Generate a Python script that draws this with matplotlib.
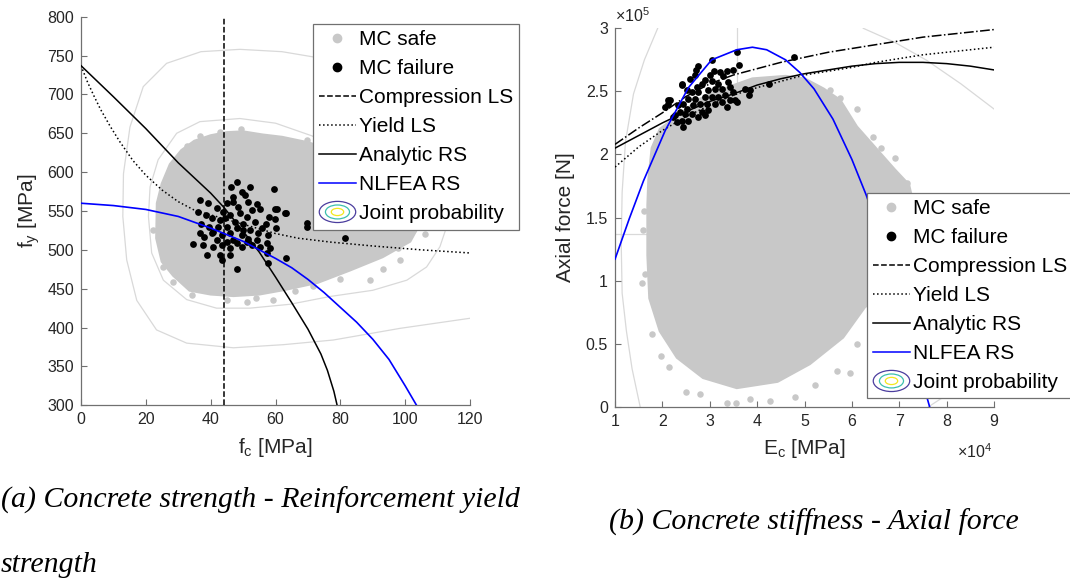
import numpy as np
import matplotlib.pyplot as plt
from matplotlib.legend_handler import HandlerBase
from matplotlib.patches import Ellipse
from matplotlib.lines import Line2D

plt.rcParams['font.family'] = ['Liberation Sans', 'DejaVu Sans']
plt.rcParams['mathtext.default'] = 'regular'

GRAY = '#c8c8c8'

# ---------------- (a) concrete strength fc - yield strength fy ----------------
fc_comp_ls = 44.0

fc_yield = [0, 2, 4, 6, 9, 12, 16, 20, 25, 30, 35, 40, 45, 50, 55, 60, 67, 77, 90, 105, 120]
fy_yield = [737, 716, 698, 681, 659, 639, 615, 596, 577, 562, 551, 545, 539, 533, 527, 521, 515, 510, 505, 500, 496]

fc_analytic = [0, 10, 20, 30, 40, 44, 50, 55, 60, 65, 70, 74, 76, 78, 79]
fy_analytic = [737, 697, 656, 612, 573, 555, 524, 497, 465, 432, 398, 366, 345, 318, 300]

fc_nlfea = [0, 10, 20, 30, 40, 50, 55, 60, 65, 70, 75, 80, 85, 90, 95, 100, 103.5]
fy_nlfea = [560, 557, 552, 543, 528, 511, 500, 489, 477, 462, 445, 426, 407, 385, 359, 325, 300]

# joint probability contours
fc_cont_out = [120, 100, 85, 72, 62, 49, 37, 26.4, 19.2, 15.1, 13.1, 12.9, 14.1, 17.2, 23.3, 32.6, 47, 62.4, 77.8, 98.4, 120]
fy_cont_out = [705, 722, 738, 748, 755, 758, 755, 740, 710, 658, 598, 543, 487, 435, 397, 380, 374, 378, 384, 399, 412]
fc_cont_in = [71.7, 60, 49, 36.7, 29.5, 23.8, 21.3, 20.8, 21.8, 25.4, 32.6, 41.8, 52.1, 64.5, 76.8, 90, 100.5, 106.6, 110.7, 112.8, 113, 110, 100, 86, 71.7]
fy_cont_in = [646, 663, 669, 665, 650, 616, 581, 543, 496, 461, 436, 425, 425, 430, 440, 448, 461, 478, 504, 530, 560, 590, 618, 636, 646]

# outline of the dense MC safe cloud + scattered samples on its fringe
fc_safe_hull = [23.5, 25, 27.5, 31, 35, 40, 45, 50, 56, 62, 70, 80, 90, 98, 103, 104, 101.5, 93, 83, 73, 63, 55, 47, 40, 33.5, 28.5, 25, 23.3]
fy_safe_hull = [560, 585, 610, 628, 640, 647, 651, 652, 648, 645, 638, 625, 605, 575, 545, 530, 511, 491, 474, 458, 449, 443, 441, 443, 448, 467, 485, 515]
fc_safe_pts = [22.3, 24.2, 36.7, 49.2, 58.3, 69.6, 51.1, 59.3, 34.1, 89.1, 98.4, 102.5, 104.8, 97.9, 71.7, 28.5, 25.4, 32.6, 42.9, 45.0, 54.0, 66.0, 80.0, 93.0, 106.0]
fy_safe_pts = [526, 560, 646, 656, 641, 641, 433, 436, 442, 461, 487, 526, 530, 502, 453, 459, 478, 633, 652, 436, 438, 447, 462, 476, 520]

fc_fail = [48.2, 46.3, 49.8, 52.1, 59.6, 46.8, 50.6, 47.0, 36.7, 39.3, 54.2, 55.2, 52.6, 60.4, 63.2, 36.2,
           41.8, 43.9, 46.0, 49.0, 51.1, 58.1, 59.9, 38.5, 40.3, 42.9, 47.5, 50.1, 53.7, 57.0, 60.2, 36.9,
           39.6, 44.9, 48.0, 52.1, 54.7, 57.8, 36.7, 40.8, 43.4, 46.0, 49.6, 51.6, 38.0, 41.8, 44.9, 48.0,
           52.6, 55.2, 57.5, 34.4, 37.7, 40.8, 43.4, 46.0, 49.6, 57.3, 39.0, 42.9, 46.0, 43.4, 48.2, 57.8,
           63.3, 51.1, 54.2, 47.0, 40.3, 42.3, 44.4, 51.6, 48.5, 55.7, 50.1, 58.3, 44.9,
           69.6, 69.8, 81.4, 62.9, 59.8]
fy_fail = [586.7, 581.1, 574.7, 581.1, 577.7, 568.2, 571.2, 561.8, 564.0, 559.7, 558.4, 553.2, 551.1, 553.2, 546.8, 548.9,
           554.1, 548.9, 544.7, 546.8, 542.5, 542.5, 539.5, 544.7, 540.4, 538.2, 536.1, 533.9, 536.1, 533.1, 528.3, 533.9,
           529.6, 529.6, 527.5, 525.3, 521.1, 518.9, 522.3, 523.2, 518.9, 521.1, 518.9, 514.6, 516.8, 512.5, 510.3, 508.2,
           506.0, 503.9, 508.2, 507.3, 506.0, 503.9, 506.0, 501.8, 503.9, 496.6, 494.0, 493.2, 494.0, 487.6, 476.0, 483.7,
           488.9, 510.3, 512.5, 512.5, 521.1, 529.6, 540.4, 561.8, 555.4, 527.5, 525.3, 501.8, 559.7,
           534.0, 530.0, 515.7, 547.0, 553.0]

# ---------------- (b) concrete stiffness Ec (x1e4) - axial force (x1e5) ----------------
ec_line = [1.0, 1.5, 2.0, 2.5, 3.0, 3.5, 4.0, 4.5, 5.0, 5.5, 6.0, 6.5, 7.0, 7.5, 8.0, 8.5, 9.0]
n_comp = [2.08, 2.21, 2.33, 2.46, 2.56, 2.63, 2.68, 2.73, 2.77, 2.81, 2.84, 2.87, 2.90, 2.93, 2.95, 2.97, 2.99]
n_yield = [1.90, 2.06, 2.19, 2.30, 2.39, 2.47, 2.53, 2.58, 2.63, 2.66, 2.69, 2.73, 2.76, 2.79, 2.81, 2.83, 2.85]
n_analytic = [2.05, 2.15, 2.25, 2.34, 2.42, 2.48, 2.55, 2.60, 2.64, 2.67, 2.70, 2.72, 2.73, 2.73, 2.72, 2.70, 2.67]

ec_nlfea = [1.0, 1.3, 1.6, 2.06, 2.55, 3.04, 3.57, 3.9, 4.2, 4.6, 4.9, 5.2, 5.6, 6.0, 6.3, 6.6, 6.9, 7.2, 7.45, 7.64]
n_nlfea = [1.17, 1.49, 1.79, 2.19, 2.53, 2.75, 2.83, 2.85, 2.83, 2.75, 2.65, 2.52, 2.28, 1.96, 1.68, 1.36, 1.0, 0.6, 0.25, 0.0]

ec_cont_a = [1.90, 1.62, 1.39, 1.22, 1.15, 1.13, 1.15, 1.24, 1.36, 1.53]
n_cont_a = [3.0, 2.75, 2.48, 2.10, 1.70, 1.30, 0.90, 0.60, 0.30, 0.0]
ec_cont_b = [6.24, 6.9, 7.58, 8.3, 9.0]
n_cont_b = [3.0, 2.89, 2.746, 2.56, 2.36]
ec_cont_c = [7.62, 8.15, 8.6]
n_cont_c = [0.0, 0.13, 0.30]
ec_cont_d = [3.57, 3.57]
n_cont_d = [3.0, 2.40]
ec_cont_e = [1.0, 1.68]
n_cont_e = [1.37, 1.37]

ec_safe_hull = [3.9, 4.6, 5.0, 5.4, 5.75, 6.1, 6.5, 6.9, 7.2, 7.3, 7.3, 7.0, 6.27, 5.81, 5.11, 4.43, 3.57, 2.86,
                2.31, 1.95, 1.73, 1.69, 1.69, 1.71, 1.78, 1.95, 2.3, 2.8, 3.3]
n_safe_hull = [2.60, 2.62, 2.60, 2.52, 2.43, 2.22, 2.05, 1.88, 1.76, 1.60, 1.30, 1.00, 0.79, 0.55, 0.34, 0.20, 0.15, 0.23,
               0.39, 0.60, 0.86, 1.20, 1.60, 1.80, 2.05, 2.20, 2.30, 2.44, 2.52]
ec_safe_pts = [1.56, 1.60, 1.64, 1.77, 1.98, 2.13, 2.80, 3.36, 3.55, 4.27, 4.80, 5.22, 5.68, 5.96, 6.10,
               6.11, 6.44, 6.62, 6.91, 7.17, 5.75, 5.53, 1.62, 2.50, 3.85]
n_safe_pts = [0.98, 1.40, 1.05, 0.577, 0.405, 0.312, 0.10, 0.026, 0.03, 0.048, 0.074, 0.175, 0.286, 0.264, 0.50,
              2.36, 2.14, 2.05, 1.97, 1.77, 2.45, 2.51, 1.55, 0.12, 0.06]

ec_fail = [3.097, 3.217, 3.358, 3.006, 3.287, 3.379, 3.055, 3.181, 2.900, 2.829, 2.725, 2.408, 2.514, 2.619, 2.760,
           2.971, 3.112, 3.252, 3.429, 3.498, 3.323, 3.181, 3.041, 2.900, 2.689, 2.548, 2.443, 2.337, 2.514, 2.654,
           2.795, 2.935, 3.112, 3.252, 3.429, 3.533, 3.358, 2.971, 2.829, 2.619, 2.478, 2.373, 2.267, 2.408, 2.548,
           2.760, 2.900, 2.302, 2.443, 2.162, 2.126, 2.232, 3.569, 3.745, 3.850, 3.837, 2.689, 2.583, 3.569, 3.041,
           2.760, 2.704, 3.618, 3.498, 4.77, 4.26, 2.045, 2.12, 2.41]
n_fail = [2.661, 2.653, 2.661, 2.627, 2.619, 2.574, 2.582, 2.560, 2.587, 2.560, 2.534, 2.560, 2.507, 2.494, 2.494,
          2.507, 2.521, 2.521, 2.534, 2.494, 2.468, 2.455, 2.455, 2.455, 2.441, 2.441, 2.402, 2.388, 2.362, 2.388,
          2.402, 2.402, 2.402, 2.415, 2.428, 2.428, 2.375, 2.349, 2.336, 2.322, 2.322, 2.336, 2.309, 2.269, 2.269,
          2.296, 2.309, 2.256, 2.216, 2.428, 2.402, 2.296, 2.415, 2.521, 2.507, 2.468, 2.627, 2.600, 2.812, 2.746,
          2.698, 2.672, 2.706, 2.672, 2.772, 2.56, 2.375, 2.43, 2.55]


class JointProb:
    pass


class JointProbHandler(HandlerBase):
    def create_artists(self, legend, orig_handle, xdescent, ydescent, width, height, fontsize, trans):
        cx = width / 2 - xdescent
        cy = height / 2 - ydescent
        out = []
        for f, c in zip([1.0, 0.66, 0.34], ['#4b3d9e', '#3cbfae', '#f2e81e']):
            out.append(Ellipse((cx, cy), width * f, height * 1.45 * f, fill=False,
                               edgecolor=c, lw=0.9, transform=trans))
        return out


def style_axes(ax):
    for s in ['top', 'right']:
        ax.spines[s].set_visible(False)
    for s in ['left', 'bottom']:
        ax.spines[s].set_color('#707070')
        ax.spines[s].set_linewidth(0.9)
    ax.tick_params(direction='in', length=4, width=0.8, color='#707070',
                   labelsize=11.5, labelcolor='#262626', pad=5)


def add_legend(ax, anchor, fig):
    handles = [
        Line2D([], [], ls='none', marker='o', ms=6, mfc=GRAY, mec=GRAY),
        Line2D([], [], ls='none', marker='o', ms=6, mfc='black', mec='black'),
        Line2D([], [], ls='--', color='black', lw=1.1),
        Line2D([], [], ls=':', color='black', lw=1.1),
        Line2D([], [], ls='-', color='black', lw=1.1),
        Line2D([], [], ls='-', color='blue', lw=1.1),
        JointProb(),
    ]
    labels = ['MC safe', 'MC failure', 'Compression LS', 'Yield LS', 'Analytic RS', 'NLFEA RS', 'Joint probability']
    leg = ax.legend(handles, labels, loc='upper left', bbox_to_anchor=anchor,
                    bbox_transform=fig.transFigure, borderaxespad=0, fontsize=15,
                    handlelength=1.75, handletextpad=0.15, labelspacing=0.48, borderpad=0.3,
                    fancybox=False, framealpha=1, edgecolor='#707070',
                    handler_map={JointProb: JointProbHandler()})
    leg.get_frame().set_linewidth(0.9)
    leg.set_zorder(10)
    return leg


fig = plt.figure(figsize=(10.7, 5.8), dpi=100)

# ---- panel (a)
ax1 = fig.add_axes([0.0757, 0.3012, 0.3636, 0.670])
ax1.plot(fc_cont_out, fy_cont_out, color='#d9d9d9', lw=0.9, zorder=1)
ax1.plot(fc_cont_in, fy_cont_in, color='#d9d9d9', lw=0.9, zorder=1)
ax1.fill(fc_safe_hull, fy_safe_hull, color=GRAY, lw=2, zorder=2)
ax1.scatter(fc_safe_pts, fy_safe_pts, s=22, color=GRAY, lw=0, zorder=2)
ax1.scatter(fc_fail, fy_fail, s=24, color='black', lw=0, zorder=3)
ax1.axvline(fc_comp_ls, color='black', ls='--', lw=1.1, zorder=4)
ax1.plot(fc_yield, fy_yield, color='black', ls=':', lw=1.1, zorder=4)
ax1.plot(fc_analytic, fy_analytic, color='black', lw=1.1, zorder=4)
ax1.plot(fc_nlfea, fy_nlfea, color='blue', lw=1.2, zorder=4)
ax1.set_xlim(0, 120)
ax1.set_ylim(300, 800)
ax1.set_xticks(np.arange(0, 121, 20))
ax1.set_yticks(np.arange(300, 801, 50))
style_axes(ax1)
ax1.set_xlabel('f$_c$ [MPa]', fontsize=15, color='#262626', labelpad=6)
ax1.set_ylabel('f$_y$ [MPa]', fontsize=15, color='#262626', labelpad=4)
add_legend(ax1, (313 / 1070, 1 - 24 / 580), fig)

# ---- panel (b)
ax2 = fig.add_axes([0.5748, 0.2988, 0.3542, 0.6524])
for xs, ys in [(ec_cont_a, n_cont_a), (ec_cont_b, n_cont_b), (ec_cont_c, n_cont_c),
               (ec_cont_d, n_cont_d), (ec_cont_e, n_cont_e)]:
    ax2.plot(xs, ys, color='#d9d9d9', lw=0.9, zorder=1)
ax2.fill(ec_safe_hull, n_safe_hull, color=GRAY, lw=2, zorder=2)
ax2.scatter(ec_safe_pts, n_safe_pts, s=22, color=GRAY, lw=0, zorder=2)
ax2.scatter(ec_fail, n_fail, s=24, color='black', lw=0, zorder=3)
ax2.plot(ec_line, n_comp, color='black', ls='-.', lw=1.1, zorder=4)
ax2.plot(ec_line, n_yield, color='black', ls=':', lw=1.1, zorder=4)
ax2.plot(ec_line, n_analytic, color='black', lw=1.1, zorder=4)
ax2.plot(ec_nlfea, n_nlfea, color='blue', lw=1.2, zorder=4)
ax2.set_xlim(1, 9)
ax2.set_ylim(0, 3)
ax2.set_xticks(np.arange(1, 10, 1))
ax2.set_yticks(np.arange(0, 3.01, 0.5))
ax2.set_yticklabels(['0', '0.5', '1', '1.5', '2', '2.5', '3'])
style_axes(ax2)
ax2.set_xlabel('E$_c$ [MPa]', fontsize=15, color='#262626', labelpad=6)
ax2.set_ylabel('Axial force [N]', fontsize=15, color='#262626', labelpad=8)
fig.text(615 / 1070, 1 - 22 / 580, r'$\times$10$^5$', fontsize=11.5, color='#262626')
fig.text(957 / 1070, 1 - 458 / 580, r'$\times$10$^4$', fontsize=11.5, color='#262626')
add_legend(ax2, (867 / 1070, 1 - 193 / 580), fig)

# captions
cap = dict(family='Liberation Serif', style='italic', fontsize=21.5, color='black', va='center')
fig.text(0.001, 1 - 500 / 580, '(a) Concrete strength - Reinforcement yield', **cap)
fig.text(0.001, 1 - 565 / 580, 'strength', **cap)
fig.text(609 / 1070, 1 - 522 / 580, '(b) Concrete stiffness - Axial force', **cap)

fig.savefig('out.png', dpi=100)
